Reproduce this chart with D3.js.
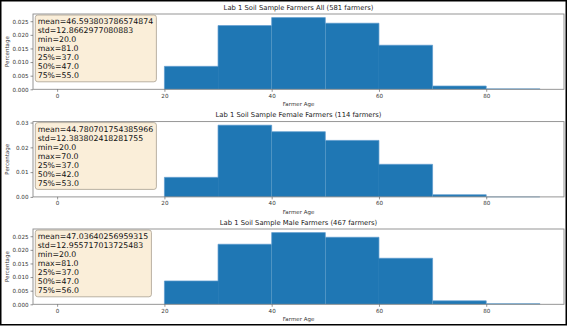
<!DOCTYPE html>
<html>
<head>
<meta charset="utf-8">
<script src="https://cdn.jsdelivr.net/npm/d3@7"></script>
<style>
  html, body { margin: 0; padding: 0; background: #fff; }
  svg { display: block; font-family: "DejaVu Sans", sans-serif; }
</style>
</head>
<body>
<svg id="chart" width="569" height="327"></svg>
<script>
// ---- data ----
const binEdges = [20, 30, 40, 50, 60, 70, 80, 90];
const allCounts = [49, 136, 153, 141, 94, 7, 1];
const femaleCounts = [9, 33, 30, 26, 15, 1, 0];
const maleCounts = [40, 103, 123, 115, 79, 6, 1];
const totals = [581, 114, 467];
const titles = [
  "Lab 1 Soil Sample Farmers All (581 farmers)",
  "Lab 1 Soil Sample Female Farmers (114 farmers)",
  "Lab 1 Soil Sample Male Farmers (467 farmers)"
];
const statsAll = ["mean=46.593803786574874", "std=12.8662977080883", "min=20.0", "max=81.0", "25%=37.0", "50%=47.0", "75%=55.0"];
const statsFemale = ["mean=44.780701754385966", "std=12.383802418281755", "min=20.0", "max=70.0", "25%=37.0", "50%=42.0", "75%=53.0"];
const statsMale = ["mean=47.03640256959315", "std=12.955717013725483", "min=20.0", "max=81.0", "25%=37.0", "50%=47.0", "75%=56.0"];
const xTicks = [0, 20, 40, 60, 80];
const yTicksAll = [0, 0.005, 0.010, 0.015, 0.020, 0.025];
const yTicksFemale = [0, 0.01, 0.02, 0.03];
const yTicksMale = [0, 0.005, 0.010, 0.015, 0.020, 0.025];
const xDomain = [-4.5, 94.5];

const panels = [
  { counts: allCounts, total: totals[0], title: titles[0], stats: statsAll, yTicks: yTicksAll, fmt: ".3f" },
  { counts: femaleCounts, total: totals[1], title: titles[1], stats: statsFemale, yTicks: yTicksFemale, fmt: ".2f" },
  { counts: maleCounts, total: totals[2], title: titles[2], stats: statsMale, yTicks: yTicksMale, fmt: ".3f" }
];

const svg = d3.select("#chart");
svg.append("rect").attr("width", 569).attr("height", 327).attr("fill", "#fff");

const left = 33, right = 564, panelH = 75.3;
const tops = [14, 121.6, 229];
const x = d3.scaleLinear().domain(xDomain).range([left, right]);

panels.forEach((p, i) => {
  const top = tops[i], bottom = top + panelH;
  const bins = p.counts.map((c, k) => ({ x0: binEdges[k], x1: binEdges[k + 1], d: c / (p.total * (binEdges[k + 1] - binEdges[k])) }));
  const maxD = d3.max(bins, b => b.d);
  const y = d3.scaleLinear().domain([0, maxD * 1.05]).range([bottom, top]);
  const g = svg.append("g");

  // bars (step filled)
  g.selectAll("rect.bar").data(bins).join("rect")
    .attr("class", "bar")
    .attr("x", b => x(b.x0))
    .attr("width", b => x(b.x1) - x(b.x0))
    .attr("y", b => y(b.d))
    .attr("height", b => Math.max(0, y(0) - y(b.d)))
    .attr("fill", "#1f77b4");
  // step outline
  const pts = [[x(binEdges[0]), y(0)]];
  bins.forEach(b => { pts.push([x(b.x0), y(b.d)]); pts.push([x(b.x1), y(b.d)]); });
  pts.push([x(binEdges[binEdges.length - 1]), y(0)]);
  g.append("path").attr("d", d3.line()(pts)).attr("fill", "none")
    .attr("stroke", "#5d9bcf").attr("stroke-width", 0.7);

  // spines
  g.append("rect").attr("x", left).attr("y", top).attr("width", right - left).attr("height", bottom - top)
    .attr("fill", "none").attr("stroke", "#8a8a8a").attr("stroke-width", 0.9);

  // x axis
  const xa = g.append("g").attr("transform", `translate(0,${bottom})`)
    .call(d3.axisBottom(x).tickValues(xTicks).tickFormat(d3.format("d")).tickSize(2.5).tickPadding(2));
  xa.select(".domain").remove();
  xa.selectAll("line").attr("stroke", "#666").attr("stroke-width", 0.7);
  xa.selectAll("text").attr("font-size", 5.6).attr("fill", "#333").attr("font-family", "DejaVu Sans");

  // y axis
  const ya = g.append("g").attr("transform", `translate(${left},0)`)
    .call(d3.axisLeft(y).tickValues(p.yTicks).tickFormat(d3.format(p.fmt)).tickSize(2.5).tickPadding(2));
  ya.select(".domain").remove();
  ya.selectAll("line").attr("stroke", "#666").attr("stroke-width", 0.7);
  ya.selectAll("text").attr("font-size", 5.6).attr("fill", "#333").attr("font-family", "DejaVu Sans");

  // labels
  g.append("text").attr("x", (left + right) / 2).attr("y", top - 4.3).attr("text-anchor", "middle")
    .attr("font-size", 6.8).attr("fill", "#222").text(p.title);
  g.append("text").attr("x", (left + right) / 2).attr("y", bottom + 16.6).attr("text-anchor", "middle")
    .attr("font-size", 5.5).attr("fill", "#333").text("Farmer Age");
  g.append("text").attr("transform", `translate(9.3,${(top + bottom) / 2}) rotate(-90)`).attr("text-anchor", "middle")
    .attr("font-size", 5.5).attr("fill", "#333").text("Percentage");

  // stats box
  const box = g.append("g");
  const boxRect = box.append("rect");
  const t = box.append("text").attr("font-size", 7.8).attr("fill", "#111");
  p.stats.forEach((s, k) => {
    t.append("tspan").attr("x", 37.7).attr("y", top + 10 + k * 9).text(s);
  });
  const bb = t.node().getBBox();
  boxRect.attr("x", 35.3).attr("y", top + 1)
    .attr("width", bb.x + bb.width + 3.2 - 35.3)
    .attr("height", bb.y + bb.height + 1.8 - (top + 1))
    .attr("rx", 2.5).attr("ry", 2.5)
    .attr("fill", "#faeed9").attr("stroke", "#a8a090").attr("stroke-width", 0.8);
});

// outer frame
svg.append("rect").attr("x", 0.75).attr("y", 0.75).attr("width", 565.5).attr("height", 324)
  .attr("fill", "none").attr("stroke", "#000").attr("stroke-width", 1.5);
</script>
</body>
</html>
